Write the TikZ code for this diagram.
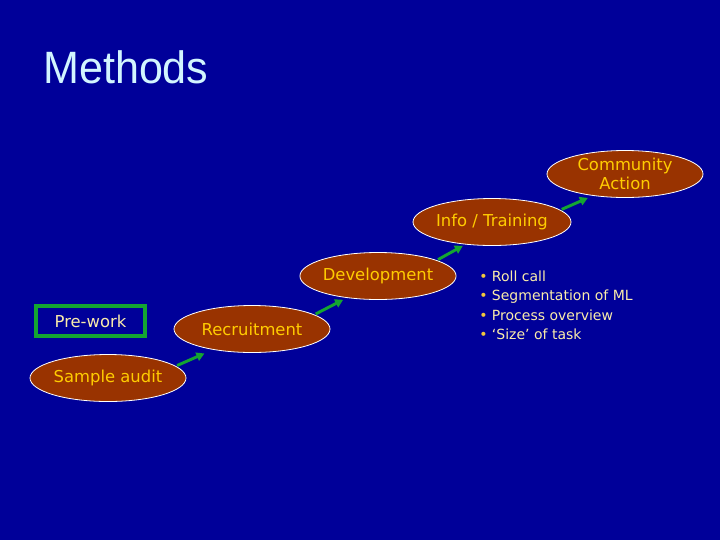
\documentclass[tikz,border=0pt]{standalone}
\usepackage{fontspec}
\setmainfont{DejaVu Sans}
\newfontfamily\titlefont{Liberation Sans}
\usetikzlibrary{shapes.geometric,arrows.meta}

\definecolor{slidebg}{RGB}{0,0,153}
\definecolor{stagefill}{RGB}{153,51,0}
\definecolor{stagetext}{RGB}{255,204,0}
\definecolor{paletext}{RGB}{250,236,170}
\definecolor{dotcol}{RGB}{240,200,60}
\definecolor{flowgreen}{RGB}{20,165,50}
\definecolor{titlecol}{RGB}{210,245,255}

\tikzset{
  stage/.style={ellipse, draw=white, line width=0.6pt, fill=stagefill, text=stagetext,
    minimum width=117pt, minimum height=35.25pt, inner sep=0pt, align=center,
    font=\fontsize{12.3}{14.3}\selectfont},
  flow/.style={draw=flowgreen, line width=2.2pt, -{Triangle[length=6pt,width=6.5pt]}},
  bulletline/.style={anchor=base west, inner sep=0pt, text=paletext,
    font=\fontsize{10.5}{12}\selectfont}
}

\begin{document}
\begin{tikzpicture}[x=0.75pt,y=0.75pt,yscale=-1,xscale=1]
% slide background
\fill[slidebg] (0,0) rectangle (720,540);
\useasboundingbox (0,0) rectangle (720,540);

% Title
\node[anchor=base west, inner sep=0pt, text=titlecol, font=\titlefont\fontsize{34}{40}\selectfont] (title) at (43,83) {\scalebox{0.95}[1]{Methods}};

% Pre-work box
\node[draw=flowgreen, line width=3pt, minimum width=81.75pt, minimum height=22.5pt, inner sep=0pt,
  text=paletext, font=\fontsize{12.3}{14.3}\selectfont] (prework) at (90.5,321) {Pre-work};

% Stages
\node[stage] (audit) at (108,378) {Sample audit};
\node[stage] (recruit) at (252,329) {Recruitment};
\node[stage] (devel) at (378,276) {Development};
\node[stage] (info) at (492,222) {Info / Training};
\node[stage] (community) at (625,174) {Community\\Action};

% Arrows between stages
\draw[flow, shorten <=1pt, shorten >=7pt] (audit.10) -- (recruit.208);
\draw[flow, shorten <=1pt, shorten >=3pt] (recruit.13) -- (devel.215);
\draw[flow, shorten <=1pt, shorten >=2pt] (devel.15) -- (info.220);
\draw[flow, shorten <=1pt, shorten >=4pt] (info.10) -- (community.214);

% Bullet points
\foreach \txt [count=\i] in {Roll call, Segmentation of ML, Process overview, ‘Size’ of task}
  \node[bulletline] (item\i) at (479,{281+19.5*(\i-1)}) {\textcolor{dotcol}{•}\ \txt};

\end{tikzpicture}
\end{document}
